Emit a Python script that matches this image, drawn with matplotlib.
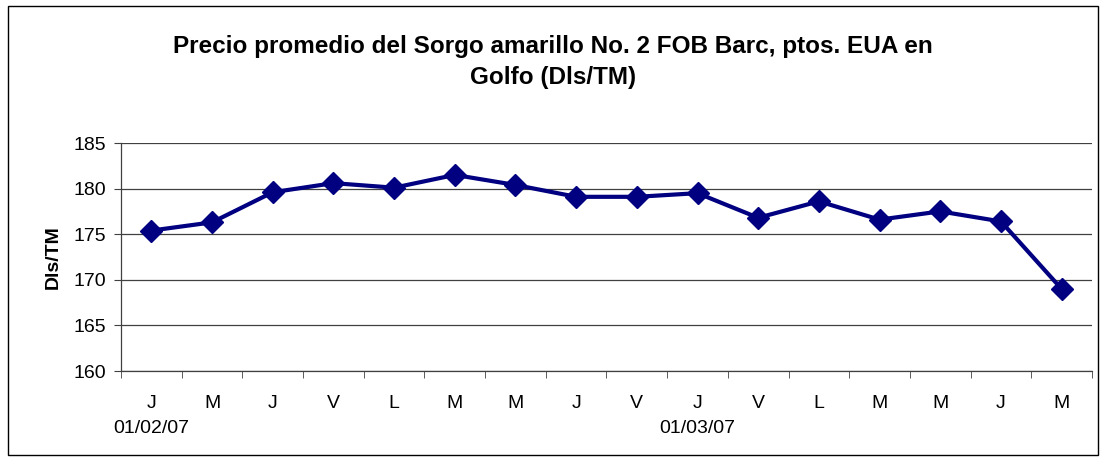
import matplotlib
matplotlib.use("Agg")
import matplotlib.pyplot as plt
from matplotlib.patches import Rectangle
import numpy as np

plt.rcParams['font.family'] = ['Liberation Sans', 'DejaVu Sans']

categories = ["J", "M", "J", "V", "L", "M", "M", "J", "V", "J", "V", "L", "M", "M", "J", "M"]
date_labels = {0: "01/02/07", 9: "01/03/07"}
values = [175.4, 176.3, 179.6, 180.6, 180.1, 181.5, 180.4, 179.1, 179.1, 179.5,
          176.8, 178.6, 176.6, 177.5, 176.4, 169.0]
yticks = [160, 165, 170, 175, 180, 185]

fig = plt.figure(figsize=(11.06, 4.61), dpi=100)
ax = fig.add_axes([0.1094, 0.1952, 0.8779, 0.4946])

x = np.arange(len(values))
ax.plot(x, values, color="#000080", linewidth=3.0, marker="D", markersize=11,
        markerfacecolor="#000080", markeredgecolor="#000080", zorder=3)

ax.set_xlim(-0.5, len(values) - 0.5)
ax.set_ylim(160, 185)
ax.set_yticks(yticks)
ax.set_yticklabels([str(t) for t in yticks], fontsize=14)
ax.yaxis.grid(True, color="#404040", linewidth=0.9)
ax.set_axisbelow(True)

labels = [c + ("\n" + date_labels[i] if i in date_labels else "\n") for i, c in enumerate(categories)]
ax.set_xticks(x)
ax.set_xticklabels(labels, fontsize=14, linespacing=1.65, va="top")
ax.tick_params(axis="x", which="major", length=0, pad=17)
ax.set_xticks(np.arange(len(values) + 1) - 0.5, minor=True)
ax.tick_params(axis="x", which="minor", length=5, direction="out", color="#404040")
ax.tick_params(axis="y", length=5, direction="out", color="#404040", pad=6)

for s in ["top", "right"]:
    ax.spines[s].set_visible(False)
for s in ["left", "bottom"]:
    ax.spines[s].set_color("#404040")
    ax.spines[s].set_linewidth(0.9)

ax.set_ylabel("Dls/TM", fontsize=14, fontweight="bold", labelpad=8)

fig.text(0.5, 0.866, "Precio promedio del Sorgo amarillo No. 2 FOB Barc, ptos. EUA en\nGolfo (Dls/TM)",
         ha="center", va="center", fontsize=17.5, fontweight="bold", linespacing=1.45)

fig.patches.append(Rectangle((8 / 1106, 6 / 461), 1090 / 1106, 449 / 461, transform=fig.transFigure,
                             fill=False, edgecolor="black", linewidth=1.0))

fig.savefig("out.png", dpi=100)
